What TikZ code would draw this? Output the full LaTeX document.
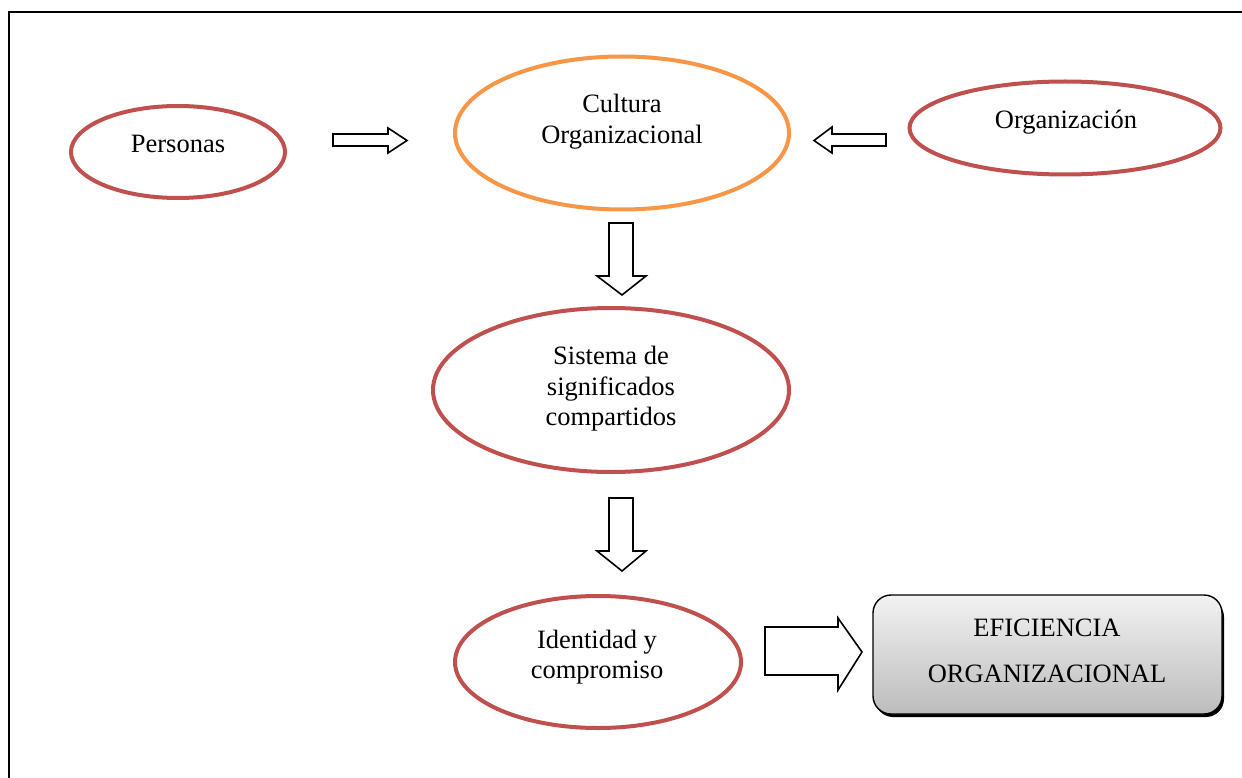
\documentclass[tikz,border=0pt]{standalone}
\usepackage{fontspec}
\setmainfont{Liberation Serif}
\usetikzlibrary{shapes.geometric}
\definecolor{ovred}{RGB}{192,80,77}
\definecolor{ovorange}{RGB}{247,150,70}
\definecolor{boxtop}{RGB}{242,242,242}
\definecolor{boxbot}{RGB}{188,188,188}
\tikzset{
  oval/.style={ellipse, draw=ovred, line width=4pt, inner sep=0pt, fill=white},
  ovalorange/.style={oval, draw=ovorange},
  lbl/.style={anchor=base, align=center, inner sep=0pt, font=\fontsize{26.5}{30.5}\selectfont},
  blockarrow/.style={draw=black, line width=1.6pt, fill=white, line join=miter},
}
\begin{document}
\begin{tikzpicture}[x=1pt,y=-1pt]
\useasboundingbox (0,0) rectangle (1242,778);
% frame
\draw[line width=2pt] (9,790) -- (9,12) -- (1250,12);

% ellipses
\node[oval, minimum width=214pt, minimum height=92pt] (personas) at (178,152) {};
\node[ovalorange, minimum width=334pt, minimum height=153pt] (cultura) at (622,133) {};
\node[oval, minimum width=311pt, minimum height=93pt] (organizacion) at (1065,128) {};
\node[oval, minimum width=356pt, minimum height=164pt] (sistema) at (611,390) {};
\node[oval, minimum width=286pt, minimum height=132pt] (identidad) at (598,662) {};

% box with shadow
\fill[black, rounded corners=18pt] (875,599) rectangle (1224,717);
\draw[line width=1.4pt, rounded corners=18pt, top color=boxtop, bottom color=boxbot]
  (873,595) rectangle (1222,714);
\coordinate (eficiencia) at (1047,655);

% labels (base anchor = baseline of last line)
\node[lbl] (tpersonas) at (178,152.5) {Personas};
\node[lbl] (tcultura) at (622,143.5) {Cultura\\Organizacional};
\node[lbl] (torganizacion) at (1066,128.5) {Organización};
\node[lbl] (tsistema) at (611,425.5) {Sistema de\\significados\\compartidos};
\node[lbl] (tidentidad) at (597,678.5) {Identidad y\\compromiso};
\node[lbl, font=\fontsize{26.5}{46}\selectfont] (teficiencia) at (1047,682) {EFICIENCIA\\ORGANIZACIONAL};

% block arrows
\draw[blockarrow] (333,134) -- (388,134) -- (388,128) -- (407,140.5) -- (388,153) -- (388,146) -- (333,146) -- cycle;
\draw[blockarrow] (886,134) -- (832,134) -- (832,127) -- (814,140.5) -- (832,153) -- (832,146) -- (886,146) -- cycle;
\draw[blockarrow] (609,223) -- (633,223) -- (633,276) -- (646,276) -- (622,295) -- (597,276) -- (609,276) -- cycle;
\draw[blockarrow] (609,498) -- (633,498) -- (633,551) -- (646,551) -- (622,571) -- (597,551) -- (609,551) -- cycle;
\draw[blockarrow] (765,627) -- (838,627) -- (838,618) -- (862,652) -- (838,690) -- (838,675) -- (765,675) -- cycle;
\end{tikzpicture}
\end{document}
